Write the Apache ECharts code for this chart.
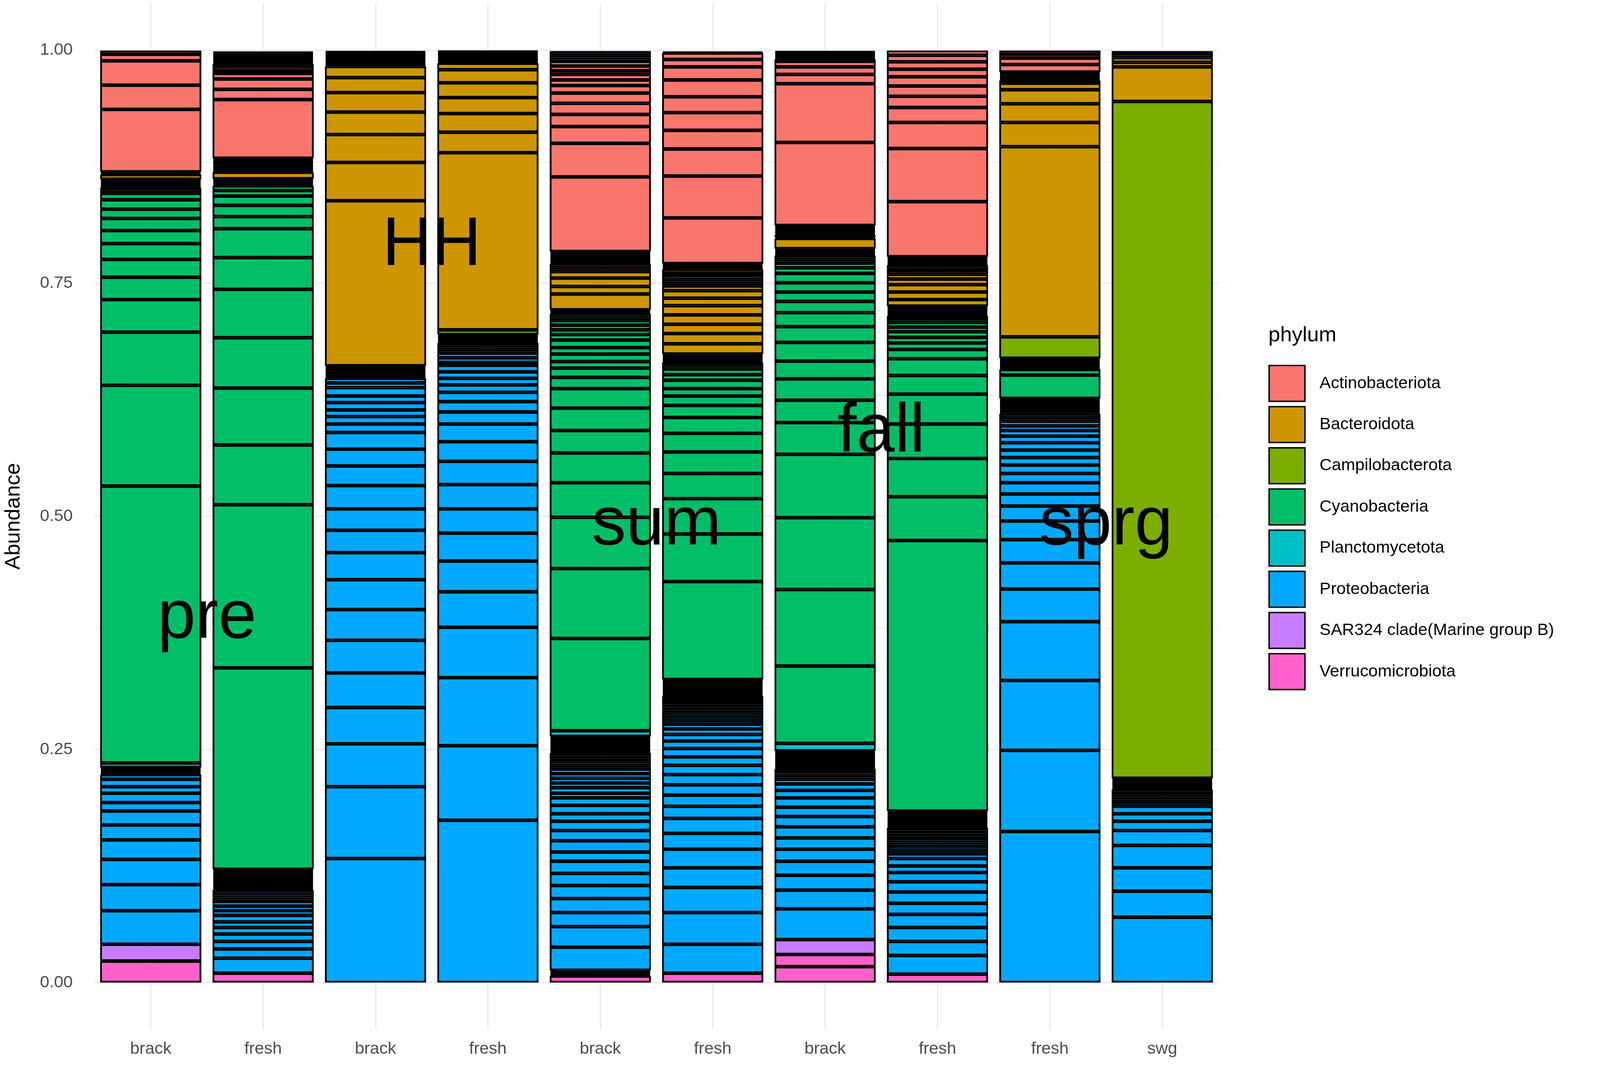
<!DOCTYPE html>
<html>
<head>
<meta charset="UTF-8">
<title>phylum abundance</title>
<script type="text/javascript" src="https://cdn.jsdelivr.net/npm/echarts@6/dist/echarts.min.js"></script>
<style>
  html, body { margin: 0; padding: 0; background: #fff; overflow: hidden; }
  #container { width: 100vw; height: 100vh; }
</style>
</head>
<body>
<div id="container"></div>
<script type="text/javascript">
// x categories, left to right
var samples = ['brack', 'fresh', 'brack', 'fresh', 'brack', 'fresh', 'brack', 'fresh', 'fresh', 'swg'];

// season labels written over the bars (x between two bars, y in abundance units)
var seasons = ['pre', 'HH', 'sum', 'fall', 'sprg'];
var seasonX = [0.5, 2.5, 4.5, 6.5, 8.5];
var seasonY = [0.39, 0.79, 0.49, 0.59, 0.49];

var yTicks = [0, 0.25, 0.5, 0.75, 1];
var yMinor = [0.125, 0.375, 0.625, 0.875];

// legend order (top to bottom) = stack order from the top down
var phyla = ['Actinobacteriota', 'Bacteroidota', 'Campilobacterota', 'Cyanobacteria',
             'Planctomycetota', 'Proteobacteria', 'SAR324 clade(Marine group B)', 'Verrucomicrobiota'];
var phylumColors = ['#F8766D', '#CD9600', '#7CAE00', '#00BE67', '#00BFC4', '#00A9FF', '#C77CFF', '#FF61CC'];

// tiny taxa, only their outlines show (the solid black bands)
var t = 0.0015;

// one list of segment sizes per bar, bottom to top inside the phylum
var verrucomicrobiota = [
  [0.023], [0.010], [], [], [0.007], [0.010], [0.017, 0.013], [0.009], [], []
];
var sar324 = [
  [0.018], [], [], [], [t, t], [], [0.016], [], [], []
];
var proteobacteria = [
  [0.036, 0.028, 0.027, 0.021, 0.016, 0.015, 0.009, 0.010, 0.007, 0.008, 0.005, t, t, t, t, t],
  [0.016, 0.010, 0.008, 0.008, 0.007, 0.006, 0.007, 0.005, 0.005, 0.005, 0.004, 0.004, 0.004,
   t, t, t, t, t, t, t, t, t, t, t, t, t, t, t],
  [0.133, 0.077, 0.046, 0.039, 0.037, 0.035, 0.033, 0.032, 0.029, 0.024, 0.023, 0.025, 0.021, 0.018,
   0.018, 0.009, 0.008, 0.007, 0.008, 0.007, 0.009, 0.005, 0.005, t, t, t, t, t, t],
  [0.174, 0.080, 0.073, 0.054, 0.038, 0.033, 0.030, 0.026, 0.026, 0.025, 0.021, 0.019, 0.013, 0.011,
   0.010, 0.008, 0.007, 0.007, 0.007, 0.003, 0.005, 0.005, 0.004, 0.004, 0.003, t, t, t, t],
  [t, t, 0.025, 0.022, 0.015, 0.015, 0.014, 0.013, 0.013, 0.010, 0.012, 0.011, 0.010, 0.008, 0.009,
   0.008, 0.005, 0.006, 0.005, 0.005, 0.005, 0.005, 0.004, 0.004, 0.003, 0.003, 0.003,
   t, t, t, t, t, t, t, t, t, t, t, t],
  [0.031, 0.034, 0.027, 0.021, 0.020, 0.017, 0.016, 0.013, 0.012, 0.011, 0.011, 0.010, 0.009, 0.009,
   0.008, 0.007, 0.006, 0.005, 0.004, 0.004, 0.004, 0.003, 0.003, 0.003, 0.003, 0.003, 0.003,
   t, t, t, t, t, t, t, t, t, t, t, t],
  [0.033, 0.020, 0.016, 0.015, 0.013, 0.012, 0.012, 0.011, 0.010, 0.010, 0.008, 0.007, 0.005, 0.004,
   0.004, 0.003, t, t, t, t, t, t, t, t, t, t, t, t, t],
  [0.020, 0.015, 0.015, 0.014, 0.012, 0.012, 0.011, 0.010, 0.007, 0.008, 0.005, 0.004, 0.004, 0.004,
   0.004, 0.003, 0.003, 0.003, 0.003, t, t, t, t, t, t, t, t, t, t, t, t],
  [0.162, 0.087, 0.075, 0.063, 0.035, 0.028, 0.025, 0.020, 0.016, 0.013, 0.012, 0.010, 0.009, 0.008,
   0.008, 0.008, 0.007, 0.006, 0.005, 0.005, 0.004, 0.004, t, t, t, t, t, t],
  [0.070, 0.028, 0.025, 0.024, 0.016, 0.010, 0.008, 0.008, 0.004, 0.003, 0.003, 0.002, 0.002, 0.002,
   0.002, t, t, t, t, t]
];
var planctomycetota = [
  [0.005], [], [], [], [0.006], [], [0.008], [], [], []
];
var cyanobacteria = [
  [0.297, 0.108, 0.057, 0.035, 0.024, 0.019, 0.017, 0.014, 0.013, 0.010, 0.010, 0.007, 0.003, 0.003,
   t, t, t, t, t, t],
  [0.216, 0.175, 0.064, 0.061, 0.054, 0.052, 0.034, 0.031, 0.013, 0.012, 0.010, 0.006, 0.005,
   t, t, t, t, t],
  [t, t, t],
  [t, t],
  [0.099, 0.075, 0.055, 0.037, 0.032, 0.024, 0.024, 0.021, 0.012, 0.010, 0.007, 0.008, 0.007, 0.008,
   0.006, 0.005, 0.005, 0.005, 0.003, 0.004, t, t, t],
  [0.105, 0.051, 0.038, 0.027, 0.023, 0.020, 0.017, 0.013, 0.010, 0.008, 0.009, 0.006, 0.006, 0.004,
   0.003, t, t, t, t, t, t],
  [0.083, 0.082, 0.077, 0.068, 0.034, 0.024, 0.023, 0.019, 0.020, 0.017, 0.015, 0.012, 0.010, 0.010,
   0.010, 0.006, 0.005, 0.004, 0.004, t, t, t],
  [0.290, 0.047, 0.041, 0.037, 0.032, 0.020, 0.018, 0.010, 0.007, 0.006, 0.006, 0.005, 0.005, 0.004,
   0.003, t, t, t, t, t, t, t],
  [t, t, t, t, t, 0.025, 0.006, t, t, t, t],
  [t, t, t]
];
var campilobacterota = [
  [], [], [], [0.005], [], [], [], [], [t, t, t, t, 0.023], [0.726]
];
var bacteroidota = [
  [0.005, t, t],
  [0.007, t, t],
  [0.177, 0.041, 0.030, 0.024, 0.021, 0.016, 0.012, t, t, t, t, t, t],
  [0.190, 0.022, 0.020, 0.017, 0.016, 0.014, 0.007, t, t, t, t, t],
  [0.017, 0.008, 0.009, 0.007, 0.004, 0.004, t, t],
  [0.011, 0.011, 0.010, 0.010, 0.010, 0.008, 0.008, 0.005, 0.003, 0.004, 0.004, 0.003, 0.004, t, t],
  [t, t, 0.011, t, 0.002, t],
  [0.007, 0.008, 0.008, 0.006, 0.005, 0.004, 0.003, 0.003, t, t, t],
  [0.204, 0.026, 0.020, 0.015, 0.007, 0.003, t, t, t],
  [0.037, 0.005, 0.005, 0.004, 0.003]
];
var actinobacteriota = [
  [0.067, 0.026, 0.026, 0.007, 0.004],
  [t, t, t, t, t, t, t, t, 0.063, 0.011, 0.011, 0.006, 0.003, 0.004, 0.003, t, t, t, t, t, t, t, t, t],
  [t, t, t, t, t],
  [t, t, t, t],
  [t, t, t, t, t, t, t, 0.080, 0.036, 0.018, 0.013, 0.012, 0.011, 0.008, 0.006, 0.006, 0.004, 0.005,
   0.005, 0.004, 0.003, 0.004],
  [t, t, 0.049, 0.045, 0.029, 0.020, 0.019, 0.017, 0.018, 0.014, 0.008, 0.007, t],
  [t, t, t, t, t, t, 0.089, 0.063, 0.010, 0.008, 0.006, 0.002, t, t, t, t, t, t],
  [t, t, t, 0.059, 0.057, 0.028, 0.016, 0.012, 0.011, 0.010, 0.008, 0.008, 0.007, 0.005],
  [t, t, t, 0.008, 0.007, 0.004, 0.004],
  []
];

// same order as phyla
var segTables = [actinobacteriota, bacteroidota, campilobacterota, cyanobacteria,
                 planctomycetota, proteobacteria, sar324, verrucomicrobiota];

// layout was measured on a 4550 x 2732 picture; scale to the real window
var dom = document.getElementById('container');
var W = dom.clientWidth || 4550;
var H = dom.clientHeight || 2732;
var sx = W / 4550, sy = H / 2732, s = Math.min(sx, sy);

var myChart = echarts.init(dom, null, {renderer: 'canvas', width: W, height: H});

// panel grid lines (ggplot theme_minimal), drawn under the bars
var gridLines = [];
yTicks.forEach(function (v) { gridLines.push({yAxis: v, lineStyle: {width: 4 * s}}); });
yMinor.forEach(function (v) { gridLines.push({yAxis: v, lineStyle: {width: 2 * s}}); });
samples.forEach(function (name, i) { gridLines.push({xAxis: i, lineStyle: {width: 4 * s}}); });

var series = [{
    type: 'line',
    data: [],
    z: 0,
    silent: true,
    markLine: {
        z: 0,
        silent: true,
        animation: false,
        symbol: ['none', 'none'],
        label: {show: false},
        lineStyle: {color: '#EBEBEB', type: 'solid'},
        data: gridLines
    }
}];

// one bar series per segment rank, stacked from Verrucomicrobiota up to Actinobacteriota
for (var p = phyla.length - 1; p >= 0; p--) {
    var table = segTables[p];
    var depth = 0;
    table.forEach(function (seg) { depth = Math.max(depth, seg.length); });
    for (var j = 0; j < depth; j++) {
        series.push({
            name: phyla[p],
            type: 'bar',
            stack: 'abundance',
            barWidth: '90%',
            z: 2,
            itemStyle: {color: phylumColors[p], borderColor: '#000', borderWidth: 5 * s},
            data: table.map(function (seg) { return j < seg.length ? seg[j] : '-'; })
        });
    }
}

// season words over the bars
series.push({
    type: 'scatter',
    xAxisIndex: 1,
    yAxisIndex: 0,
    z: 10,
    silent: true,
    symbolSize: 0.1,
    itemStyle: {color: 'transparent', opacity: 1},
    label: {
        show: true,
        position: 'inside',
        fontSize: 195 * s,
        color: '#000',
        opacity: 1,
        textBorderWidth: 0,
        formatter: function (params) { return params.data[2]; }
    },
    data: seasons.map(function (name, i) { return [seasonX[i], seasonY[i], name]; })
});

var option = {
    animation: false,
    backgroundColor: '#fff',
    textStyle: {fontFamily: 'Liberation Sans, Arial, sans-serif'},
    title: {
        text: 'phylum',
        left: 3607 * sx,
        top: 832 * sy,
        padding: 0,
        textStyle: {fontSize: 60 * s, fontWeight: 'normal', color: '#000'}
    },
    legend: {
        orient: 'vertical',
        left: 3607 * sx,
        top: 934 * sy,
        padding: 0,
        itemWidth: 102 * s,
        itemHeight: 102 * s,
        itemGap: 10 * sy,
        icon: 'rect',
        itemStyle: {borderWidth: 4 * s, borderColor: '#000'},
        textStyle: {fontSize: 48 * s, color: '#000', padding: [0, 0, 0, 36 * s]},
        data: phyla
    },
    grid: {left: 265 * sx, right: 1085 * sx, top: 9 * sy, bottom: 97 * sy},
    xAxis: [{
        type: 'category',
        data: samples,
        axisLine: {show: false},
        axisTick: {show: false},
        splitLine: {show: false},
        axisLabel: {fontSize: 48 * s, color: '#4D4D4D', margin: 30 * sy}
    }, {
        type: 'value',
        min: -0.5,
        max: 9.5,
        show: false
    }],
    yAxis: {
        type: 'value',
        min: -0.05,
        max: 1.05,
        interval: 0.05,
        name: 'Abundance',
        nameLocation: 'middle',
        nameGap: 200 * sx,
        nameTextStyle: {fontSize: 60 * s, color: '#000'},
        axisLine: {show: false},
        axisTick: {show: false},
        splitLine: {show: false},
        axisLabel: {
            fontSize: 48 * s,
            color: '#4D4D4D',
            margin: 62 * sx,
            formatter: function (v) {
                var q = v / 0.25;
                return (v > -1e-9 && Math.abs(q - Math.round(q)) < 1e-6) ? v.toFixed(2) : '';
            }
        }
    },
    series: series
};

myChart.setOption(option);
</script>
</body>
</html>
